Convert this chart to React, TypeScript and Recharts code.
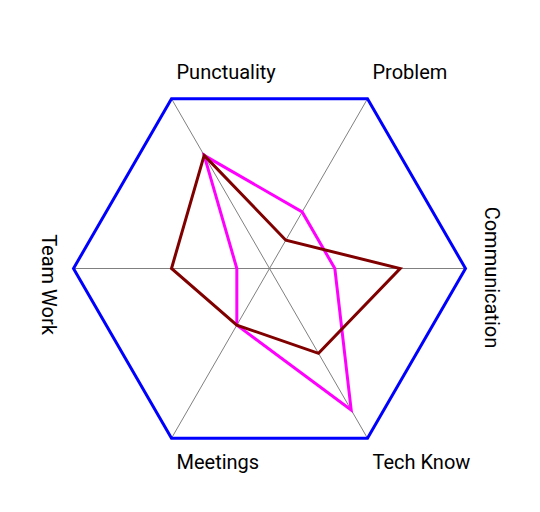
import { RadarChart, Radar, PolarGrid, PolarAngleAxis, PolarRadiusAxis } from 'recharts';

const skills = ['Punctuality', 'Problem', 'Communication', 'Tech Know', 'Meetings', 'Team Work'];
const seriesA = [4, 2, 2, 5, 2, 1];
const seriesB = [4, 1, 4, 3, 2, 3];

const data = skills.map((s, i) => ({ subject: s, a: seriesA[i], b: seriesB[i] }));

const CX = 261.5;
const CY = 260.5;
const R = 196;

// labels sit beside each corner of the hexagon
const SkillTick = ({ payload }: any) => {
  const angle = payload.coordinate;
  const rad = (angle * Math.PI) / 180;
  const vx = CX + R * Math.cos(rad);
  const vy = CY - R * Math.sin(rad);
  const font = { fontFamily: 'Roboto', fontSize: 20, fill: '#000' };
  if (Math.abs(angle) < 1) {
    return (
      <text x={vx + 19.5} y={269.5} textAnchor="middle" transform={`rotate(90, ${vx + 19.5}, 269.5)`} {...font}>
        {payload.value}
      </text>
    );
  }
  if (Math.abs(Math.abs(angle) - 180) < 1) {
    return (
      <text x={vx - 31.5} y={276.5} textAnchor="middle" transform={`rotate(90, ${vx - 31.5}, 276.5)`} {...font}>
        {payload.value}
      </text>
    );
  }
  const top = angle > 0;
  return (
    <text x={vx + 5} y={top ? vy - 20 : vy + 31} textAnchor="start" {...font}>
      {payload.value}
    </text>
  );
};

export default function App() {
  return (
    <RadarChart width={524} height={496} cx={CX} cy={CY} outerRadius={R} data={data}
      startAngle={120} endAngle={-240} margin={{ top: 0, right: 0, bottom: 0, left: 0 }}>
      <PolarGrid gridType="polygon" polarRadius={[R]} stroke="#808080" strokeWidth={1} />
      <PolarRadiusAxis domain={[0, 6]} tick={false} axisLine={false} />
      <PolarAngleAxis dataKey="subject" tick={<SkillTick />} tickLine={false}
        axisLineType="polygon" axisLine={{ stroke: '#0000ff', strokeWidth: 3 }} />
      <Radar dataKey="a" stroke="#ff00ff" strokeWidth={3} fill="none" fillOpacity={0} isAnimationActive={false} />
      <Radar dataKey="b" stroke="#800000" strokeWidth={3} fill="none" fillOpacity={0} isAnimationActive={false} />
    </RadarChart>
  );
}
